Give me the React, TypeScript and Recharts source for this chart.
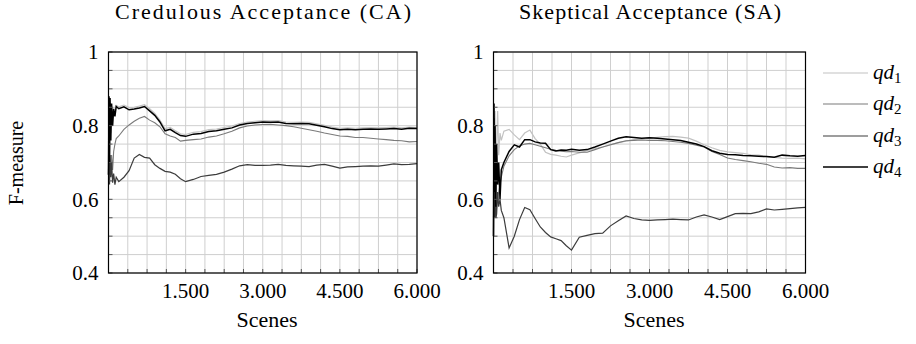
import { CartesianGrid, Line, LineChart, XAxis, YAxis } from "recharts";

// scene counts where the F-measure was sampled
const scenes = [
  0, 10, 20, 30, 45, 60, 80, 100, 125, 150,
  200, 300, 400, 500, 600, 700, 800, 900, 1000, 1100, 1200, 1300, 1400, 1500,
  1650, 1800, 1950, 2100, 2250, 2400, 2550, 2700, 2850, 3000, 3150, 3300, 3450, 3600, 3750,
  3900, 4050, 4200, 4350, 4500, 4650, 4800, 4950, 5100, 5250, 5400, 5550, 5700, 5850, 6000,
];

// Credulous Acceptance
const caQd1 = [
  0.667, 0.85, 0.72, 0.86, 0.78, 0.85, 0.82, 0.85, 0.835, 0.855,
  0.851, 0.856, 0.849, 0.85, 0.853, 0.857, 0.846, 0.833, 0.815, 0.792, 0.795, 0.786, 0.778, 0.776,
  0.782, 0.784, 0.789, 0.791, 0.795, 0.799, 0.806, 0.81, 0.812, 0.814, 0.813, 0.814, 0.81, 0.809, 0.81,
  0.809, 0.805, 0.801, 0.796, 0.793, 0.794, 0.793, 0.794, 0.795, 0.794, 0.795, 0.796, 0.794, 0.796, 0.795,
];
const caQd2 = [
  0.667, 0.75, 0.66, 0.7, 0.68, 0.72, 0.68, 0.73, 0.75, 0.765,
  0.772, 0.79, 0.802, 0.812, 0.82, 0.825, 0.815, 0.808, 0.797, 0.778, 0.772, 0.768, 0.758, 0.76,
  0.762, 0.764, 0.769, 0.772, 0.778, 0.785, 0.794, 0.799, 0.802, 0.803, 0.804, 0.802, 0.8, 0.797, 0.793,
  0.789, 0.785, 0.78, 0.776, 0.772, 0.771, 0.768, 0.768, 0.766, 0.764, 0.762, 0.76, 0.759, 0.756, 0.757,
];
const caQd3 = [
  0.667, 0.78, 0.64, 0.72, 0.66, 0.7, 0.645, 0.67, 0.64, 0.66,
  0.648, 0.66, 0.678, 0.712, 0.722, 0.714, 0.712, 0.694, 0.684, 0.676, 0.674, 0.668, 0.656, 0.648,
  0.654, 0.662, 0.665, 0.668, 0.674, 0.682, 0.691, 0.694, 0.692, 0.692, 0.693, 0.695, 0.692, 0.691, 0.69,
  0.689, 0.693, 0.695, 0.69, 0.685, 0.688, 0.689, 0.69, 0.691, 0.69, 0.693, 0.696, 0.694, 0.695, 0.697,
];
const caQd4 = [
  0.667, 0.88, 0.7, 0.875, 0.76, 0.86, 0.8, 0.845, 0.825, 0.852,
  0.846, 0.851, 0.843, 0.845, 0.848, 0.852, 0.84, 0.828, 0.81, 0.786, 0.79, 0.781, 0.773, 0.771,
  0.777, 0.779, 0.784, 0.786, 0.79, 0.794, 0.802, 0.806, 0.808, 0.81, 0.809, 0.81, 0.806, 0.805, 0.806,
  0.805, 0.801, 0.797, 0.792, 0.789, 0.79, 0.789, 0.79, 0.791, 0.79, 0.791, 0.792, 0.79, 0.793, 0.792,
];

// Skeptical Acceptance
const saQd1 = [
  0.55, 0.7, 0.6, 0.84, 0.65, 0.75, 0.84, 0.72, 0.78, 0.76,
  0.785, 0.79, 0.775, 0.762, 0.78, 0.788, 0.765, 0.75, 0.728, 0.722, 0.72, 0.717, 0.715, 0.72,
  0.726, 0.732, 0.738, 0.742, 0.748, 0.754, 0.758, 0.762, 0.764, 0.766, 0.768, 0.77, 0.771, 0.769, 0.766,
  0.758, 0.748, 0.74, 0.733, 0.729, 0.727, 0.725, 0.721, 0.72, 0.716, 0.714, 0.712, 0.711, 0.712, 0.71,
];
const saQd2 = [
  0.55, 0.62, 0.55, 0.64, 0.55, 0.58, 0.6, 0.62, 0.64, 0.66,
  0.69, 0.718, 0.735, 0.745, 0.75, 0.752, 0.748, 0.744, 0.74, 0.736, 0.733, 0.731, 0.729, 0.73,
  0.728, 0.728, 0.735, 0.742, 0.748, 0.754, 0.759, 0.76, 0.761, 0.76, 0.76, 0.759, 0.757, 0.755, 0.752,
  0.747, 0.742, 0.73, 0.722, 0.712, 0.708, 0.705, 0.702, 0.698, 0.695, 0.688, 0.685, 0.686, 0.684, 0.684,
];
const saQd3 = [
  0.5, 0.82, 0.55, 0.7, 0.55, 0.56, 0.62, 0.58, 0.6, 0.57,
  0.55, 0.468, 0.5, 0.545, 0.578, 0.572, 0.548, 0.525, 0.51, 0.498, 0.493, 0.488, 0.474, 0.462,
  0.497, 0.502, 0.507, 0.508, 0.528, 0.542, 0.555, 0.548, 0.544, 0.543, 0.544, 0.545, 0.546, 0.545, 0.544,
  0.552, 0.558, 0.552, 0.545, 0.553, 0.561, 0.562, 0.561, 0.566, 0.574, 0.571, 0.573, 0.575, 0.577, 0.578,
];
const saQd4 = [
  0.5, 0.86, 0.62, 0.8, 0.58, 0.75, 0.64, 0.7, 0.6, 0.68,
  0.7, 0.73, 0.748, 0.742, 0.762, 0.762, 0.756, 0.753, 0.752, 0.735, 0.731, 0.734, 0.733, 0.736,
  0.733, 0.735, 0.742, 0.75, 0.758, 0.766, 0.77, 0.768, 0.766, 0.767, 0.766, 0.764, 0.762, 0.76, 0.755,
  0.75, 0.743, 0.732, 0.725, 0.722, 0.721, 0.719, 0.718, 0.717, 0.716, 0.714, 0.72, 0.718, 0.717, 0.719,
];

const seriesKeys = ["qd1", "qd2", "qd3", "qd4"];
const seriesColors = ["#c2c2c2", "#7a7a7a", "#3c3c3c", "#000000"];
const seriesWidths = [1.2, 1.1, 1.2, 1.5];

const xGridTicks = [0, 375, 750, 1125, 1500, 1875, 2250, 2625, 3000, 3375, 3750, 4125, 4500, 4875, 5250, 5625, 6000];
const xLabelTicks = [1500, 3000, 4500, 6000];
const yGridTicks = [0.4, 0.45, 0.5, 0.55, 0.6, 0.65, 0.7, 0.75, 0.8, 0.85, 0.9, 0.95, 1];
const yLabelTicks = [0.4, 0.6, 0.8, 1];

const FONT = '"Liberation Serif", "Noto Serif", "DejaVu Serif", serif';

const toRows = (s1: number[], s2: number[], s3: number[], s4: number[]) =>
  scenes.map((scene, i) => ({ scene, qd1: s1[i], qd2: s2[i], qd3: s3[i], qd4: s4[i] }));

const caRows = toRows(caQd1, caQd2, caQd3, caQd4);
const saRows = toRows(saQd1, saQd2, saQd3, saQd4);

const fmtX = (v: number) =>
  xLabelTicks.includes(v) ? `${Math.floor(v / 1000)}.${String(v % 1000).padStart(3, "0")}` : "";
const fmtY = (v: number) =>
  yLabelTicks.some((t) => Math.abs(t - v) < 1e-9) ? String(Math.round(v * 10) / 10) : "";

const Y_AXIS_W = 108.5;
const RIGHT_PAD = 34;

function Panel({ left, plotWidth, rows }: { left: number; plotWidth: number; rows: any[] }) {
  return (
    <div style={{ position: "absolute", left, top: 0 }}>
      <LineChart
        width={Y_AXIS_W + plotWidth + RIGHT_PAD}
        height={344}
        data={rows}
        margin={{ top: 52, right: RIGHT_PAD, bottom: 41, left: 0 }}
        style={{ overflow: "visible", fontFamily: FONT }}
      >
        <CartesianGrid stroke="#cfcfcf" strokeWidth={1} />
        <XAxis
          dataKey="scene"
          type="number"
          domain={[0, 6000]}
          ticks={xGridTicks}
          tickFormatter={fmtX}
          height={30}
          interval={0}
          axisLine={false}
          tickSize={-4}
          tickLine={{ stroke: "#555" }}
          tickMargin={14}
          tick={{ fontFamily: FONT, fontSize: 21, fill: "#000" }}
        />
        <YAxis
          type="number"
          domain={[0.4, 1]}
          ticks={yGridTicks}
          tickFormatter={fmtY}
          width={Y_AXIS_W}
          interval={0}
          axisLine={false}
          tickSize={-4}
          tickLine={{ stroke: "#555" }}
          tickMargin={14}
          tick={{ fontFamily: FONT, fontSize: 21, fill: "#000" }}
        />
        {seriesKeys.map((k, i) => (
          <Line
            key={k}
            type="linear"
            dataKey={k}
            stroke={seriesColors[i]}
            strokeWidth={seriesWidths[i]}
            dot={false}
            isAnimationActive={false}
          />
        ))}
      </LineChart>
    </div>
  );
}

export default function App() {
  const legendRows = [73, 104, 136, 167];
  return (
    <div
      style={{ position: "absolute", left: 0, top: 0, width: 916, height: 344, background: "#fff", fontFamily: FONT }}
    >
      <Panel left={0} plotWidth={308.5} rows={caRows} />
      <Panel left={385} plotWidth={312} rows={saRows} />
      <svg
        width={916}
        height={344}
        style={{ position: "absolute", left: 0, top: 0, pointerEvents: "none", fontFamily: FONT }}
      >
        <rect x={108.5} y={52} width={308.5} height={221} fill="none" stroke="#000" strokeWidth={1.2} />
        <rect x={493.5} y={52} width={312} height={221} fill="none" stroke="#000" strokeWidth={1.2} />
        <text x={263} y={19} fontSize={22} textAnchor="middle" textLength={296} lengthAdjust="spacing">
          Credulous Acceptance (CA)
        </text>
        <text x={650} y={19} fontSize={22} textAnchor="middle" textLength={262} lengthAdjust="spacing">
          Skeptical Acceptance (SA)
        </text>
        <text x={267} y={327} fontSize={22} textAnchor="middle">Scenes</text>
        <text x={654} y={327} fontSize={22} textAnchor="middle">Scenes</text>
        <text transform="translate(23,163) rotate(-90)" fontSize={20} textAnchor="middle">F-measure</text>
        {seriesKeys.map((k, i) => (
          <g key={k}>
            <line x1={823} x2={868} y1={legendRows[i]} y2={legendRows[i]} stroke={seriesColors[i]} strokeWidth={seriesWidths[i]} />
            <text x={873} y={legendRows[i] + 6} fontSize={21} fontStyle="italic">
              qd
              <tspan fontSize={15} fontStyle="normal" dy={4}>{k.slice(2)}</tspan>
            </text>
          </g>
        ))}
      </svg>
    </div>
  );
}
